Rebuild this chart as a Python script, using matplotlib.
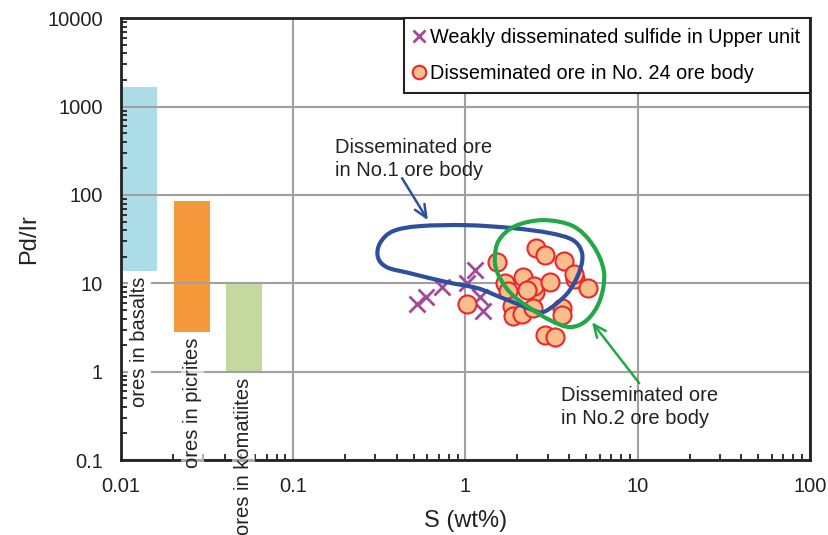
import numpy as np
import matplotlib
matplotlib.use("Agg")
import matplotlib.pyplot as plt
from matplotlib.path import Path
from matplotlib.patches import PathPatch

plt.rcParams['font.family'] = ['Liberation Sans', 'DejaVu Sans']

# --- Data ---
# weakly disseminated sulfide, Upper unit
weak_s = [0.52, 0.59, 0.73, 1.02, 1.14, 1.21, 1.26]
weak_pdir = [5.8, 7.0, 9.1, 10.0, 14.1, 7.0, 4.85]

# disseminated ore, No. 24 ore body
no24_s = [1.52, 2.57, 2.89, 3.73, 4.32, 4.27, 5.14, 1.70, 1.77, 2.16, 2.53, 2.51,
          3.09, 1.86, 1.89, 2.13, 2.47, 3.63, 3.63, 1.02, 2.89, 3.31, 2.28]
no24_pdir = [17.4, 25.0, 20.8, 17.8, 11.2, 12.7, 8.8, 10.0, 8.2, 11.8, 7.9, 9.3,
             10.3, 5.5, 4.3, 4.5, 5.2, 5.2, 4.4, 5.8, 2.6, 2.5, 8.4]

# field outlines (closed)
no1_s = [0.310, 0.319, 0.379, 0.544, 1.02, 1.89, 3.09, 4.21, 4.75, 4.62,
         4.04, 3.40, 2.82, 2.47, 1.89, 1.59, 1.17, 0.782, 0.477, 0.350]
no1_pdir = [19.8, 28.5, 38.9, 44.4, 45.5, 42.1, 37.0, 30.8, 22.0, 14.1,
            8.4, 5.97, 4.72, 4.97, 6.12, 6.98, 8.83, 10.3, 13.0, 15.2]
no2_s = [1.48, 1.565, 1.94, 2.82, 4.21, 5.50, 6.37, 6.04, 5.07, 4.04, 3.09, 2.28, 1.81, 1.545]
no2_pdir = [19.3, 30.8, 44.4, 51.9, 44.4, 27.0, 13.4, 6.46, 3.84, 3.20, 3.84, 5.52, 7.94, 12.7]

# reference ranges for ores in other host rocks
range_names = ['ores in basalts', 'ores in picrites', 'ores in komatiites']
range_s_lo = [0.010, 0.0203, 0.0406]
range_s_hi = [0.0162, 0.0329, 0.0658]
range_pdir_lo = [13.7, 2.8, 1.0]
range_pdir_hi = [1660, 85, 10]
range_colors = ['#ADDCE9', '#F5993A', '#C5D89E']

x_ticks = [0.01, 0.1, 1, 10, 100]
x_ticklabels = ['0.01', '0.1', '1', '10', '100']
y_ticks = [0.1, 1, 10, 100, 1000, 10000]
y_ticklabels = ['0.1', '1', '10', '100', '1000', '10000']

TXT = '#222222'


def smooth_closed(xs, ys):
    """Closed Catmull-Rom outline through the points, built in log space."""
    p = np.column_stack([np.log10(xs), np.log10(ys)])
    n = len(p)
    verts = [p[0]]
    codes = [Path.MOVETO]
    for i in range(n):
        p0, p1, p2, p3 = p[i - 1], p[i], p[(i + 1) % n], p[(i + 2) % n]
        verts += [p1 + (p2 - p0) / 6, p2 - (p3 - p1) / 6, p2]
        codes += [Path.CURVE4] * 3
    return Path(10 ** np.array(verts), codes)


fig = plt.figure(figsize=(8.29, 5.35), dpi=100)
ax = fig.add_axes([0.146, 0.140, 0.831, 0.826])
ax.set_xscale('log')
ax.set_yscale('log')
ax.set_xlim(0.01, 100)
ax.set_ylim(0.1, 10000)

ax.set_axisbelow(True)
ax.grid(True, which='major', color='#A0A0A0', linewidth=1.5)

# host rock ranges
for name, xl, xh, yl, yh, c in zip(range_names, range_s_lo, range_s_hi,
                                   range_pdir_lo, range_pdir_hi, range_colors):
    ax.bar(xl, yh - yl, width=xh - xl, bottom=yl, align='edge', color=c,
           zorder=0.4, linewidth=0)
    xc = np.sqrt(xl * xh)
    alpha = 1.0 if name == 'ores in basalts' else 0.6
    ax.annotate(name, xy=(xc, yl), xytext=(0, -4), textcoords='offset points',
                rotation=90, ha='center', va='top', fontsize=14.5, color=TXT,
                annotation_clip=False, zorder=3,
                bbox=dict(facecolor='white', edgecolor='none', alpha=alpha, pad=1.5))

# samples
ax.plot(weak_s, weak_pdir, linestyle='none', marker='x', markersize=11,
        markeredgewidth=2, color='#A3489B', zorder=4,
        label='Weakly disseminated sulfide in Upper unit')
ax.plot(no24_s, no24_pdir, linestyle='none', marker='o', markersize=13,
        markerfacecolor='#F9BE8C', markeredgecolor='#E8282A', markeredgewidth=1.5,
        zorder=4, label='Disseminated ore in No. 24 ore body')

# ore body fields
ax.add_patch(PathPatch(smooth_closed(no1_s, no1_pdir), facecolor='none',
                       edgecolor='#2E4E9E', linewidth=3, zorder=5))
ax.add_patch(PathPatch(smooth_closed(no2_s, no2_pdir), facecolor='none',
                       edgecolor='#22A847', linewidth=3, zorder=5))

arrow = '->,head_length=0.9,head_width=0.4'
ax.annotate('', xy=(0.605, 51.9), xytext=(0.428, 155),
            arrowprops=dict(arrowstyle=arrow, color='#2E4E9E', linewidth=1.8,
                            shrinkA=0, shrinkB=0))
ax.text(0.1745, 254, 'Disseminated ore\nin No.1 ore body', fontsize=14.5, color=TXT,
        ha='left', va='center', linespacing=1.3)

ax.annotate('', xy=(5.42, 3.64), xytext=(10.2, 0.743),
            arrowprops=dict(arrowstyle=arrow, color='#22A847', linewidth=1.8,
                            shrinkA=0, shrinkB=0))
ax.text(3.58, 0.398, 'Disseminated ore\nin No.2 ore body', fontsize=14.5, color=TXT,
        ha='left', va='center', linespacing=1.3)

# axes styling
ax.set_xticks(x_ticks)
ax.set_xticklabels(x_ticklabels)
ax.set_yticks(y_ticks)
ax.set_yticklabels(y_ticklabels)
ax.tick_params(which='both', direction='in', labelsize=14.5, colors=TXT, width=1.3)
ax.tick_params(which='major', length=0)
ax.tick_params(axis='x', which='major', pad=12)
ax.tick_params(axis='y', which='major', pad=13)
ax.tick_params(which='minor', length=4)
for sp in ax.spines.values():
    sp.set_linewidth(2)
    sp.set_color(TXT)

ax.set_xlabel('S (wt%)', fontsize=17, color=TXT, labelpad=10)
ax.set_ylabel('Pd/Ir', fontsize=17, color=TXT, labelpad=5)

leg = ax.legend(loc='upper right', bbox_to_anchor=(1, 1), borderaxespad=0,
                fontsize=14.3, fancybox=False, framealpha=1, edgecolor=TXT,
                handlelength=0.5, handletextpad=0.3, labelspacing=0.85,
                borderpad=0.5, markerscale=0.75)
leg.get_frame().set_linewidth(1.5)
leg.set_zorder(6)

fig.savefig('out.png', dpi=100)
